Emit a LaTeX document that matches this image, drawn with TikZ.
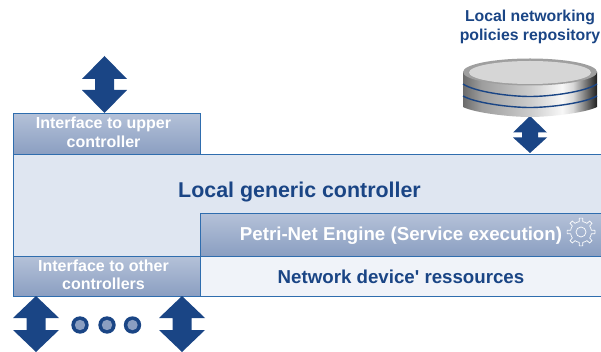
\documentclass[tikz,border=0pt]{standalone}
\usepackage{fontspec}
\setmainfont{Liberation Sans}[Ligatures=TeXOff]
\definecolor{navy}{HTML}{1A4585}
\definecolor{edge}{HTML}{2F6DAE}
\definecolor{pale}{HTML}{DFE6F1}
\definecolor{paler}{HTML}{F0F3F9}
\definecolor{gtop}{HTML}{B4C1D8}
\definecolor{gbot}{HTML}{8A9EC1}
\pgfdeclarehorizontalshading{drum}{100bp}{
 rgb(0bp)=(.42,.42,.42); rgb(25bp)=(.42,.42,.42); rgb(32bp)=(.62,.62,.62); rgb(50bp)=(.80,.80,.80); rgb(62bp)=(.97,.97,.97); rgb(66bp)=(.85,.85,.85); rgb(75bp)=(.12,.12,.12); rgb(100bp)=(.12,.12,.12)}
\tikzset{x=1pt,y=-1pt,
 flat/.style={draw=edge,line width=1.3pt,inner sep=0pt,anchor=north west},
 ifbox/.style={flat,top color=gtop,bottom color=gbot,middle color=gtop!50!gbot},
 iflabel/.style={text=white,font=\bfseries\fontsize{16}{18.5}\selectfont,align=center},
 navytext/.style={text=navy,font=\bfseries}}
\newcommand{\dblarrow}[7]{% cx, top, bottom, halfwidth, headbase, head2, shafthalf
 \fill[navy] (#1,#2) -- (#1+#4,#5) -- (#1+#7,#5) -- (#1+#7,#6) -- (#1+#4,#6) -- (#1,#3) -- (#1-#4,#6) -- (#1-#7,#6) -- (#1-#7,#5) -- (#1-#4,#5) -- cycle;}
\begin{document}
\begin{tikzpicture}
\useasboundingbox (0,0) rectangle (601,352);
% main boxes
\node[flat,fill=pale,minimum width=589pt,minimum height=102pt] (main) at (13,154) {};
\node[ifbox,minimum width=187pt,minimum height=41pt] (upper) at (13,113) {};
\node[ifbox,minimum width=401pt,minimum height=43pt] (petri) at (200,213) {};
\node[ifbox,minimum width=187pt,minimum height=40pt] (other) at (13,256) {};
\node[flat,fill=paler,minimum width=401pt,minimum height=40pt] (res) at (200,256) {};
\node[iflabel] (upperlabel) at (103.5,132.5) {Interface to upper\\controller};
\node[iflabel] (otherlabel) at (103.5,275) {Interface to other\\controllers};
\node[navytext,font=\bfseries\fontsize{21.4}{25}\selectfont] (lgc) at (299.5,192) {Local generic controller};
\node[text=white,font=\bfseries\fontsize{18.7}{22}\selectfont] (pn) at (401,235.5) {Petri-Net Engine (Service execution)};
\node[navytext,font=\bfseries\fontsize{18.7}{22}\selectfont] (ndr) at (401,277) {Network device' ressources};
% arrows
\dblarrow{104.5}{56}{113}{22.5}{79}{90}{9.5}
\dblarrow{530}{116}{153}{17}{132.5}{137.5}{8}
\dblarrow{36}{296}{352}{23}{318}{330}{9.5}
\dblarrow{182}{296}{352}{23}{318}{330}{9.5}
% dots
\foreach \cx in {80,107,132.5}{
 \fill[navy] (\cx,325) circle (8.7);
 \fill[gbot] (\cx,325) circle (5.2);
}
% repository
\shade[shading=drum]
 (463,72) -- (463,107) .. controls (475,113) and (510,117) .. (530,117) .. controls (550,117) and (585,113) .. (597,107) -- (597,72) -- cycle;
\draw[navy,line width=1.4pt] (463,84) .. controls (475,92) and (510,96.5) .. (530,96.5) .. controls (550,96.5) and (585,92) .. (597,84);
\draw[navy,line width=1.4pt] (463,96) .. controls (475,103) and (510,107.5) .. (530,107.5) .. controls (550,107.5) and (585,103) .. (597,96);
\fill[gray!75] (530,72) ellipse[x radius=67,y radius=13.5];
\fill[gray!32] (530,72.5) ellipse[x radius=61,y radius=11.5];
\node[navytext,font=\bfseries\fontsize{15.8}{18.5}\selectfont,align=center] (title) at (530,27) {Local networking\\policies repository};
% gear
\begin{scope}[shift={(581,232)}]
\draw[white,line width=.7pt] (0,0) circle (5);
\foreach \a in {0,45,...,315}
 \draw[white,line width=.7pt,line join=round] (\a-22.5:10.5) -- (\a-10:10.5) -- (\a-7:14) -- (\a+7:14) -- (\a+10:10.5) -- (\a+22.5:10.5);
\end{scope}
\end{tikzpicture}
\end{document}
